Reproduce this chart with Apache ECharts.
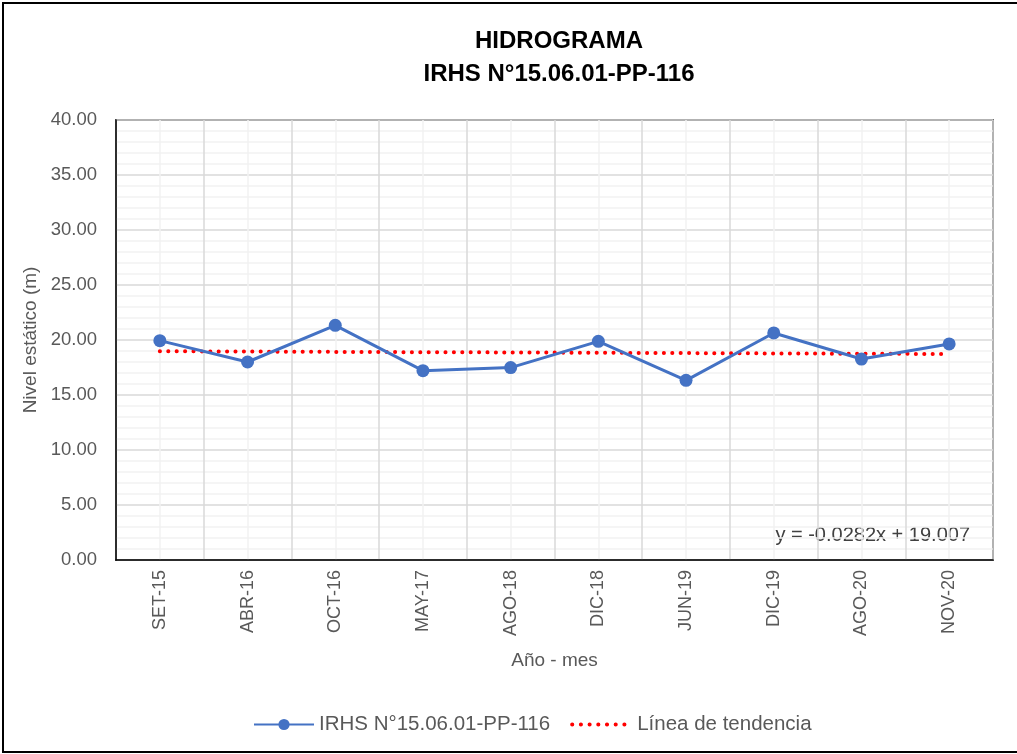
<!DOCTYPE html>
<html>
<head>
<meta charset="utf-8">
<script src="https://cdn.jsdelivr.net/npm/echarts@6/dist/echarts.min.js"></script>
<style>
  html, body { margin: 0; padding: 0; background: #fff; }
  #chart { width: 1017px; height: 754px; }
</style>
</head>
<body>
<div id="chart"></div>
<script>
// hidrograma - nivel estatico
var FONT = "'Liberation Sans Narrow', 'Arial Narrow', 'Liberation Sans', sans-serif";

var categories = ['SET-15', 'ABR-16', 'OCT-16', 'MAY-17', 'AGO-18', 'DIC-18', 'JUN-19', 'DIC-19', 'AGO-20', 'NOV-20'];
var nivel = [19.94, 18.0, 21.33, 17.21, 17.49, 19.88, 16.33, 20.64, 18.27, 19.64];
var tendencia = [18.98, 18.95, 18.92, 18.89, 18.87, 18.84, 18.81, 18.78, 18.75, 18.73];
var seriesNames = ['IRHS N°15.06.01-PP-116', 'Línea de tendencia'];
var ecuacion = 'y = -0.0282x + 19.007';

var chart = echarts.init(document.getElementById('chart'));

chart.setOption({
    animation: false,
    textStyle: {fontFamily: FONT},
    title: {
        text: 'HIDROGRAMA\nIRHS N°15.06.01-PP-116',
        left: 554,
        top: 20,
        textAlign: 'center',
        textStyle: {
            fontFamily: FONT,
            fontSize: 24,
            fontWeight: 'bold',
            color: '#000',
            lineHeight: 33
        }
    },
    grid: {
        left: 116,
        top: 120,
        width: 877,
        height: 440,
        show: true,
        borderColor: '#000',
        borderWidth: 1.5,
        containLabel: false
    },
    legend: {
        left: 248,
        top: 709,
        itemWidth: 60,
        itemHeight: 14,
        itemGap: 20,
        textStyle: {fontFamily: FONT, fontSize: 20.5, color: '#595959'},
        data: [
            {name: seriesNames[0]},
            {
                name: seriesNames[1],
                itemStyle: {opacity: 0},
                lineStyle: {color: '#FF0000', width: 4, type: [0.1, 8.6], cap: 'round'}
            }
        ]
    },
    xAxis: [
        {
            type: 'category',
            data: categories,
            boundaryGap: true,
            name: 'Año - mes',
            nameLocation: 'middle',
            nameGap: 91,
            nameTextStyle: {fontFamily: FONT, fontSize: 19, color: '#595959'},
            axisLine: {lineStyle: {color: '#000', width: 1.5}},
            axisTick: {show: false},
            axisLabel: {rotate: 90, margin: 10, fontSize: 18, color: '#595959', fontFamily: FONT},
            splitLine: {show: false}
        },
        {
            // only for the grid lines
            type: 'value',
            min: 0,
            max: 10,
            interval: 1,
            position: 'bottom',
            axisLine: {show: false},
            axisTick: {show: false},
            axisLabel: {show: false},
            splitLine: {show: true, lineStyle: {color: '#D9D9D9', width: 1.5}},
            minorTick: {show: false, splitNumber: 2},
            minorSplitLine: {show: true, lineStyle: {color: '#F2F2F2', width: 1.5}}
        }
    ],
    yAxis: {
        type: 'value',
        min: 0,
        max: 40,
        interval: 5,
        name: 'Nivel estático (m)',
        nameLocation: 'middle',
        nameGap: 76,
        nameTextStyle: {fontFamily: FONT, fontSize: 19, color: '#595959'},
        axisLine: {show: true, lineStyle: {color: '#000', width: 1.5}},
        axisTick: {show: false},
        axisLabel: {
            fontSize: 18.5,
            color: '#595959',
            margin: 19,
            fontFamily: FONT,
            formatter: function (v) { return v.toFixed(2); }
        },
        splitLine: {lineStyle: {color: '#D9D9D9', width: 1.5}},
        minorTick: {show: false, splitNumber: 5},
        minorSplitLine: {show: true, lineStyle: {color: '#F2F2F2', width: 1.5}}
    },
    series: [
        {
            name: seriesNames[1],
            type: 'line',
            xAxisIndex: 0,
            data: tendencia,
            symbol: 'none',
            itemStyle: {color: '#FF0000'},
            lineStyle: {color: '#FF0000', width: 4, type: [0.1, 8.3], cap: 'round'},
            z: 3
        },
        {
            name: seriesNames[0],
            type: 'line',
            xAxisIndex: 0,
            data: nivel,
            symbol: 'circle',
            symbolSize: 13,
            itemStyle: {color: '#4472C4'},
            lineStyle: {color: '#4472C4', width: 3},
            z: 4
        }
    ],
    graphic: [
        {
            type: 'text',
            right: 1017 - 970,
            top: 525,
            style: {text: ecuacion, font: '20px ' + FONT, fill: '#404040'}
        },
        {
            type: 'rect',
            shape: {x: 3, y: 3, width: 1020, height: 749},
            style: {fill: 'none', stroke: '#000', lineWidth: 2},
            silent: true
        }
    ]
});
</script>
</body>
</html>
